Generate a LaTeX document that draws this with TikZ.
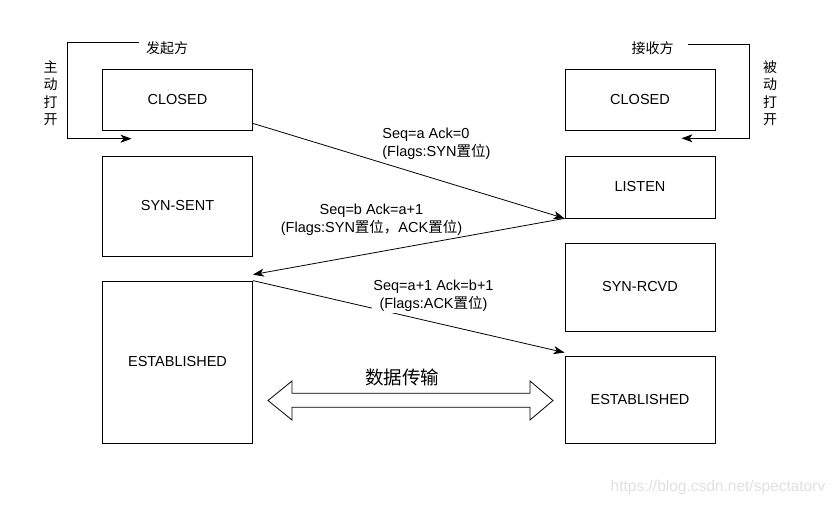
\documentclass[tikz,border=0pt]{standalone}
\usepackage{fontspec}
\setmainfont{Liberation Sans}
\newfontfamily\cjk{Noto Sans CJK SC}
\usetikzlibrary{arrows.meta}

\begin{document}
\begin{tikzpicture}[x=1pt,y=-1pt,line width=0.8pt,>={Stealth[length=11pt,width=8pt,inset=3pt]},
  state/.style={draw,minimum width=150pt,inner sep=0pt,font=\fontsize{14.5}{17.5}\selectfont},
  msg/.style={font=\fontsize{14.5}{18}\selectfont,inner sep=1pt},
  side/.style={font=\cjk\fontsize{14}{17.5}\selectfont,align=center,inner sep=0pt}]
\useasboundingbox (0,0) rectangle (835,506);
% ================= initiator =================
\node[state,minimum height=61pt] (closedL) at (177.5,99.5) {CLOSED};
\node[state,minimum height=100pt] (synsent) at (177.5,206) {SYN-SENT};
\node[state,minimum height=162pt] (estL) at (177.5,362) {ESTABLISHED};
\node[side] (initlbl) at (167,48.5) {发起方};
\node[side] (activelbl) at (50.5,93) {主\\动\\打\\开};
\coordinate (loopL) at (131.5,138.7);
\draw[->] ([xshift=-7pt,yshift=5.8pt]initlbl.west) -- ++(-71.3,0) |- (loopL);
% ================= responder =================
\node[state,minimum height=61pt] (closedR) at (640,99.5) {CLOSED};
\node[state,minimum height=62pt] (listen) at (640,187) {LISTEN};
\node[state,minimum height=88pt] (synrcvd) at (640,287) {SYN-RCVD};
\node[state,minimum height=87pt] (estR) at (640,399.5) {ESTABLISHED};
\node[side] (resplbl) at (652.5,48.5) {接收方};
\node[side] (passivelbl) at (770,93) {被\\动\\打\\开};
\coordinate (loopR) at (681.5,138.3);
\draw[->] ([xshift=14pt,yshift=3.8pt]resplbl.east) -- ++(61,0) |- (loopR);
% ================= handshake =================
\draw[->] ([yshift=7pt]closedL.south east) -- (listen.south west);
\node[msg,anchor=west,align=left] (syn) at (381,144)
  {Seq=a Ack=0\\(Flags:SYN{\cjk 置位})};
\draw[->] (listen.south west) -- ([yshift=6pt]estL.north east);
\node[msg,align=center,fill=white] (synack) at (371.5,219.5)
  {Seq=b Ack=a+1\\(Flags:SYN{\cjk 置位，}ACK{\cjk 置位})};
\draw[->] (estL.north east) -- ([yshift=3pt]estR.north west);
\node[msg,align=center,fill=white] (ack) at (433.5,296)
  {Seq=a+1 Ack=b+1\\(Flags:ACK{\cjk 置位})};
% ================= data =================
\draw (268,400.5) -- (292,381) -- (292,393.3) -- (530,393.3) -- (530,381)
  -- (553,400.5) -- (530,420) -- (530,407.3) -- (292,407.3) -- (292,420) -- cycle;
\node[font=\cjk\fontsize{18.5}{20}\selectfont] (datalbl) at (402,377) {数据传输};
% watermark
\node[font=\fontsize{15.5}{17}\selectfont,text=black!12] (mark) at (718,487)
  {https://blog.csdn.net/spectatorv};
\end{tikzpicture}
\end{document}
